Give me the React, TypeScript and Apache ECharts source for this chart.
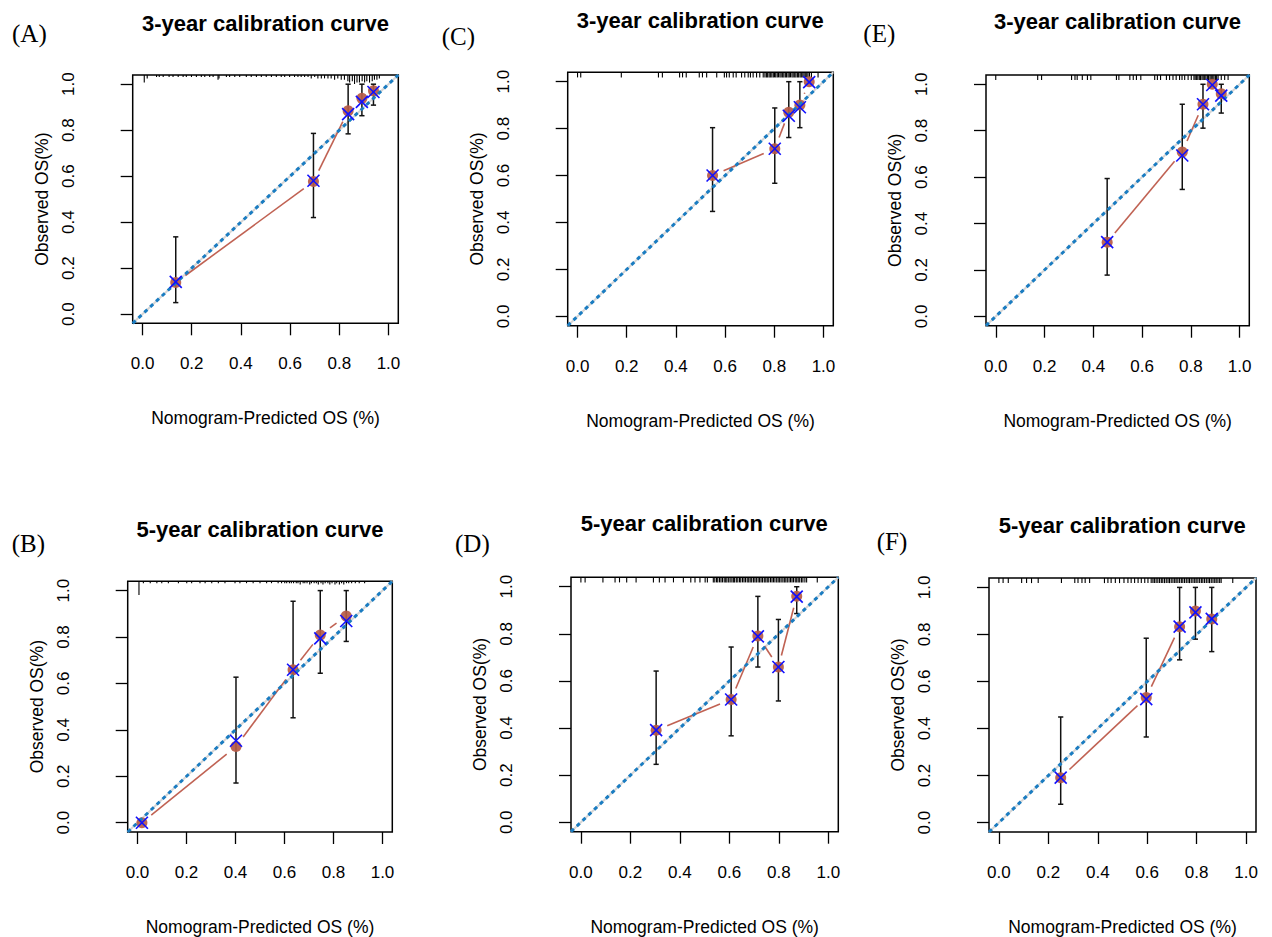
import React, { useEffect, useRef } from "react";
import * as echarts from "echarts";

// ---------- shared axis data ----------
const TICKS = [0, 0.2, 0.4, 0.6, 0.8, 1.0];
const AXIS_MIN = -0.04;
const AXIS_MAX = 1.04;
const X_NAME = "Nomogram-Predicted OS (%)";
const Y_NAME = "Observed OS(%)";
const TITLES = [
  "3-year calibration curve",
  "5-year calibration curve",
  "3-year calibration curve",
  "5-year calibration curve",
  "3-year calibration curve",
  "5-year calibration curve",
];
const PANEL_LABELS = ["(A)", "(B)", "(C)", "(D)", "(E)", "(F)"];

// ---------- Panel A ----------
const predA = [0.135, 0.695, 0.836, 0.892, 0.939];
const obsA = [0.137, 0.577, 0.884, 0.939, 0.971];
const corrA = [0.14, 0.58, 0.87, 0.923, 0.966];
const loA = [0.05, 0.42, 0.784, 0.863, 0.909];
const hiA = [0.336, 0.786, 1.0, 1.0, 1.0];
const rugA = [
  [0.007, 5], [0.019, 2], [0.057, 1], [0.068, 1], [0.084, 1], [0.108, 1], [0.124, 1], [0.145, 1],
  [0.165, 1], [0.178, 1], [0.199, 1], [0.219, 1], [0.239, 1], [0.253, 1], [0.273, 1], [0.287, 1],
  [0.307, 3], [0.311, 2], [0.341, 1], [0.354, 1], [0.375, 1], [0.395, 1], [0.422, 1], [0.442, 1],
  [0.463, 1], [0.483, 1], [0.503, 1], [0.524, 1], [0.544, 1], [0.564, 1], [0.578, 1], [0.598, 1],
  [0.618, 1], [0.632, 1], [0.645, 1], [0.659, 1], [0.673, 1], [0.686, 2], [0.7, 1], [0.713, 2],
  [0.727, 2], [0.74, 2], [0.754, 2], [0.767, 2], [0.781, 3], [0.794, 2], [0.808, 3], [0.821, 3],
  [0.835, 4], [0.842, 5], [0.853, 4], [0.862, 6], [0.872, 5], [0.882, 5], [0.893, 4], [0.903, 5],
  [0.912, 4], [0.923, 5], [0.934, 4], [0.943, 3], [0.953, 3], [0.963, 2],
];

// ---------- Panel B ----------
const predB = [0.018, 0.402, 0.635, 0.746, 0.852];
const obsB = [0.0, 0.328, 0.659, 0.809, 0.89];
const corrB = [0.0, 0.353, 0.659, 0.794, 0.869];
const loB = [0.0, 0.171, 0.452, 0.644, 0.781];
const hiB = [0.0, 0.627, 0.954, 1.0, 1.0];
const rugB = [
  [0.006, 10], [0.024, 1], [0.052, 1], [0.079, 1], [0.099, 1], [0.126, 1], [0.167, 1], [0.201, 1],
  [0.221, 1], [0.255, 1], [0.276, 1], [0.303, 1], [0.33, 1], [0.357, 1], [0.398, 1], [0.418, 1],
  [0.445, 1], [0.472, 1], [0.5, 1], [0.527, 1], [0.547, 1], [0.574, 1], [0.588, 1], [0.601, 1],
  [0.609, 1], [0.62, 1], [0.628, 1], [0.637, 1], [0.648, 1], [0.655, 1], [0.664, 2], [0.676, 1],
  [0.683, 1], [0.692, 1], [0.703, 2], [0.71, 1], [0.721, 1], [0.73, 1], [0.738, 2], [0.749, 1],
  [0.757, 2], [0.766, 1], [0.777, 1], [0.785, 2], [0.794, 1], [0.806, 2], [0.813, 1], [0.824, 2],
  [0.833, 1], [0.842, 2], [0.853, 1], [0.862, 1], [0.874, 1], [0.889, 1], [0.905, 1], [0.927, 1],
];

// ---------- Panel C ----------
const predC = [0.549, 0.802, 0.859, 0.904, 0.942];
const obsC = [0.6, 0.714, 0.87, 0.901, 1.0];
const corrC = [0.6, 0.714, 0.855, 0.891, 0.998];
const loC = [0.447, 0.567, 0.762, 0.804, 1.0];
const hiC = [0.804, 0.888, 1.0, 1.0, 1.0];
const rugC = [
  0.0, 0.013, 0.178, 0.329, 0.345, 0.415, 0.427, 0.442, 0.495, 0.508, 0.525, 0.566, 0.597, 0.606,
  0.617, 0.633, 0.645, 0.667, 0.68, 0.694, 0.703, 0.714, 0.728, 0.741, 0.755, 0.762, 0.768, 0.773,
  0.779, 0.784, 0.79, 0.796, 0.801, 0.806, 0.812, 0.817, 0.823, 0.828, 0.834, 0.839, 0.845, 0.85,
  0.856, 0.861, 0.866, 0.872, 0.877, 0.883, 0.888, 0.894, 0.899, 0.905, 0.91, 0.916, 0.921, 0.926,
  0.932, 0.937, 0.943, 0.951, 0.978,
];

// ---------- Panel D ----------
const predD = [0.304, 0.607, 0.715, 0.798, 0.872];
const obsD = [0.391, 0.521, 0.791, 0.659, 0.96];
const corrD = [0.391, 0.521, 0.789, 0.659, 0.958];
const loD = [0.246, 0.367, 0.659, 0.515, 0.886];
const hiD = [0.642, 0.744, 0.959, 0.861, 1.0];
const rugD = [
  0.0, 0.017, 0.089, 0.138, 0.156, 0.185, 0.223, 0.293, 0.317, 0.34, 0.374, 0.414, 0.444, 0.461,
  0.481, 0.502, 0.511, 0.535, 0.541, 0.548, 0.553, 0.56, 0.566, 0.572, 0.579, 0.585, 0.59, 0.597,
  0.603, 0.61, 0.616, 0.621, 0.628, 0.634, 0.641, 0.646, 0.653, 0.659, 0.665, 0.672, 0.678, 0.684,
  0.69, 0.697, 0.703, 0.709, 0.716, 0.722, 0.728, 0.734, 0.741, 0.747, 0.753, 0.759, 0.766, 0.772,
  0.778, 0.784, 0.791, 0.797, 0.803, 0.809, 0.816, 0.822, 0.828, 0.834, 0.841, 0.847, 0.853, 0.859,
  0.866, 0.872, 0.878, 0.884, 0.891, 0.897, 0.905, 0.912, 0.955,
];

// ---------- Panel E ----------
const predE = [0.457, 0.765, 0.85, 0.888, 0.925];
const obsE = [0.32, 0.708, 0.914, 1.0, 0.959];
const corrE = [0.32, 0.693, 0.914, 0.997, 0.951];
const loE = [0.178, 0.547, 0.811, 1.0, 0.876];
const hiE = [0.594, 0.914, 1.0, 1.0, 1.0];
const rugE = [
  0.0, 0.172, 0.188, 0.311, 0.325, 0.334, 0.355, 0.376, 0.39, 0.495, 0.505, 0.55, 0.564, 0.577,
  0.595, 0.652, 0.663, 0.676, 0.7, 0.713, 0.727, 0.74, 0.754, 0.764, 0.775, 0.789, 0.802, 0.813,
  0.818, 0.824, 0.829, 0.835, 0.84, 0.846, 0.851, 0.857, 0.862, 0.868, 0.873, 0.879, 0.884, 0.89,
  0.895, 0.901, 0.906, 0.912, 0.925, 0.939, 0.953,
];

// ---------- Panel F ----------
const predF = [0.25, 0.596, 0.731, 0.795, 0.861];
const obsF = [0.191, 0.532, 0.833, 0.9, 0.866];
const corrF = [0.191, 0.525, 0.833, 0.894, 0.866];
const loF = [0.078, 0.364, 0.692, 0.78, 0.727];
const hiF = [0.449, 0.784, 1.0, 1.0, 1.0];
const rugF = [
  0.0, 0.017, 0.038, 0.092, 0.112, 0.132, 0.159, 0.253, 0.307, 0.32, 0.336, 0.349, 0.367, 0.427,
  0.441, 0.454, 0.471, 0.488, 0.506, 0.522, 0.535, 0.549, 0.563, 0.576, 0.59, 0.603, 0.616, 0.623,
  0.629, 0.636, 0.643, 0.65, 0.657, 0.663, 0.67, 0.677, 0.684, 0.69, 0.697, 0.704, 0.711, 0.717,
  0.724, 0.731, 0.738, 0.744, 0.751, 0.758, 0.765, 0.771, 0.778, 0.785, 0.792, 0.798, 0.805, 0.812,
  0.819, 0.825, 0.832, 0.839, 0.846, 0.852, 0.859, 0.866, 0.873, 0.879, 0.886, 0.893, 0.899, 0.946,
];

const PANELS = [
  { pred: predA, obs: obsA, corr: corrA, lo: loA, hi: hiA, rug: rugA },
  { pred: predB, obs: obsB, corr: corrB, lo: loB, hi: hiB, rug: rugB },
  { pred: predC, obs: obsC, corr: corrC, lo: loC, hi: hiC, rug: rugC },
  { pred: predD, obs: obsD, corr: corrD, lo: loD, hi: hiD, rug: rugD },
  { pred: predE, obs: obsE, corr: corrE, lo: loE, hi: hiE, rug: rugE },
  { pred: predF, obs: obsF, corr: corrF, lo: loF, hi: hiF, rug: rugF },
];

// ---------- layout (positions / styles) ----------
const GRIDS = [
  { left: 132.7, top: 75, width: 265.6, height: 248.3 },
  { left: 127.7, top: 581.3, width: 264.6, height: 253 },
  { left: 567.7, top: 72.3, width: 265.6, height: 253.4 },
  { left: 571, top: 577.3, width: 267.3, height: 254.4 },
  { left: 986, top: 75, width: 263.3, height: 250.7 },
  { left: 989, top: 578, width: 267, height: 254.3 },
];
const TITLE_POS = [
  [265.5, 23], [260, 529.3], [700.3, 20.5], [704.2, 523.3], [1117.5, 21.7], [1122.2, 525],
];
const LABEL_POS = [
  [12, 33], [11.7, 543.3], [441.7, 36.7], [455, 543.3], [863.3, 33.3], [876.7, 541.7],
];
const RUG_UNIT = [1.4, 1.3, 4.5, 4.5, 4.5, 4.5];

const FONT = '"Liberation Sans", Arial, Helvetica, sans-serif';
const RED = "#c06253";
const DOT = "#b65a47";
const BLUE_DIAG = "#1a7cc1";
const BLUE_X = "#1010ff";

function buildOption() {
  const grid: any[] = [];
  const xAxis: any[] = [];
  const yAxis: any[] = [];
  const series: any[] = [];
  const graphic: any[] = [];

  PANELS.forEach((p, i) => {
    const g = GRIDS[i];
    grid.push({
      left: g.left,
      top: g.top,
      width: g.width,
      height: g.height,
      show: true,
      borderColor: "#000",
      borderWidth: 1.5,
      backgroundColor: "transparent",
      containLabel: false,
    });
    xAxis.push({
      type: "value",
      gridIndex: i,
      min: AXIS_MIN,
      max: AXIS_MAX,
      axisLine: { show: false, onZero: false },
      axisTick: {
        show: true,
        inside: false,
        length: 12,
        customValues: TICKS,
        lineStyle: { color: "#000", width: 1.3 },
      },
      axisLabel: {
        customValues: TICKS,
        formatter: (v: number) => v.toFixed(1),
        margin: 32,
        fontSize: 17,
        color: "#000",
        fontFamily: FONT,
      },
      splitLine: { show: false },
      name: X_NAME,
      nameLocation: "middle",
      nameGap: 86,
      nameTextStyle: { fontSize: 17.5, color: "#000", fontFamily: FONT },
    });
    yAxis.push({
      type: "value",
      gridIndex: i,
      min: AXIS_MIN,
      max: AXIS_MAX,
      axisLine: { show: false, onZero: false },
      axisTick: {
        show: true,
        inside: false,
        length: 12,
        customValues: TICKS,
        lineStyle: { color: "#000", width: 1.3 },
      },
      axisLabel: {
        customValues: TICKS,
        formatter: (v: number) => v.toFixed(1),
        rotate: 90,
        margin: 56,
        fontSize: 17,
        color: "#000",
        fontFamily: FONT,
      },
      splitLine: { show: false },
      name: Y_NAME,
      nameLocation: "middle",
      nameGap: 82,
      nameTextStyle: { fontSize: 17.5, color: "#000", fontFamily: FONT },
    });

    // ideal line (grey) under the dotted blue reference
    series.push({
      type: "line",
      xAxisIndex: i,
      yAxisIndex: i,
      data: [[AXIS_MIN, AXIS_MIN], [AXIS_MAX, AXIS_MAX]],
      symbol: "none",
      silent: true,
      lineStyle: { color: "#d6d6d6", width: 2 },
      z: 1,
    });

    // rug of predicted risks along the top edge
    const unit = RUG_UNIT[i];
    const rugData = p.rug.map((r: any) => (Array.isArray(r) ? [r[0], r[1]] : [r, 1]));
    series.push({
      type: "custom",
      xAxisIndex: i,
      yAxisIndex: i,
      data: rugData,
      encode: { x: 0 },
      silent: true,
      z: 2,
      renderItem: (params: any, api: any) => {
        const top = api.coord([api.value(0), AXIS_MAX]);
        const len = api.value(1) * unit + 0.6;
        return {
          type: "line",
          shape: { x1: top[0], y1: top[1], x2: top[0], y2: top[1] + len },
          style: { stroke: "#000", lineWidth: 1.1 },
        };
      },
    });

    // red connecting line with gaps around points (type = "b")
    const segs: number[][] = [];
    for (let k = 0; k < p.pred.length - 1; k++) {
      segs.push([p.pred[k], p.obs[k], p.pred[k + 1], p.obs[k + 1]]);
    }
    series.push({
      type: "custom",
      xAxisIndex: i,
      yAxisIndex: i,
      data: segs,
      encode: { x: [0, 2], y: [1, 3] },
      silent: true,
      z: 3,
      renderItem: (params: any, api: any) => {
        const a = api.coord([api.value(0), api.value(1)]);
        const b = api.coord([api.value(2), api.value(3)]);
        const dx = b[0] - a[0];
        const dy = b[1] - a[1];
        const L = Math.hypot(dx, dy);
        const gap = 12;
        if (L <= 2 * gap) return { type: "group", children: [] };
        const ux = dx / L;
        const uy = dy / L;
        return {
          type: "line",
          shape: { x1: a[0] + ux * gap, y1: a[1] + uy * gap, x2: b[0] - ux * gap, y2: b[1] - uy * gap },
          style: { stroke: RED, lineWidth: 1.6 },
        };
      },
    });

    // error bars
    series.push({
      type: "custom",
      xAxisIndex: i,
      yAxisIndex: i,
      data: p.pred.map((x: number, k: number) => [x, p.lo[k], p.hi[k]]),
      encode: { x: 0, y: [1, 2] },
      silent: true,
      z: 4,
      renderItem: (params: any, api: any) => {
        const lo = api.value(1);
        const hi = api.value(2);
        if (hi - lo < 0.005) return { type: "group", children: [] };
        const a = api.coord([api.value(0), lo]);
        const b = api.coord([api.value(0), hi]);
        const w = 2.6;
        const st = { stroke: "#111", lineWidth: 1.5 };
        return {
          type: "group",
          children: [
            { type: "line", shape: { x1: a[0], y1: a[1], x2: b[0], y2: b[1] }, style: st },
            { type: "line", shape: { x1: a[0] - w, y1: a[1], x2: a[0] + w, y2: a[1] }, style: st },
            { type: "line", shape: { x1: b[0] - w, y1: b[1], x2: b[0] + w, y2: b[1] }, style: st },
          ],
        };
      },
    });

    // observed (red dots)
    series.push({
      type: "scatter",
      xAxisIndex: i,
      yAxisIndex: i,
      data: p.pred.map((x: number, k: number) => [x, p.obs[k]]),
      symbol: "circle",
      symbolSize: 11,
      itemStyle: { color: DOT, opacity: 0.92 },
      silent: true,
      z: 5,
    });

    // dotted blue reference line
    series.push({
      type: "line",
      xAxisIndex: i,
      yAxisIndex: i,
      data: [[AXIS_MIN, AXIS_MIN], [AXIS_MAX, AXIS_MAX]],
      symbol: "none",
      silent: true,
      lineStyle: { color: BLUE_DIAG, width: 3, type: [4, 4], cap: "butt" },
      z: 6,
    });

    // bias-corrected (blue X)
    series.push({
      type: "custom",
      xAxisIndex: i,
      yAxisIndex: i,
      data: p.pred.map((x: number, k: number) => [x, p.corr[k]]),
      encode: { x: 0, y: 1 },
      silent: true,
      z: 7,
      renderItem: (params: any, api: any) => {
        const c = api.coord([api.value(0), api.value(1)]);
        const r = 6;
        const st = { stroke: BLUE_X, lineWidth: 1.6 };
        return {
          type: "group",
          children: [
            { type: "line", shape: { x1: c[0] - r, y1: c[1] - r, x2: c[0] + r, y2: c[1] + r }, style: st },
            { type: "line", shape: { x1: c[0] - r, y1: c[1] + r, x2: c[0] + r, y2: c[1] - r }, style: st },
          ],
        };
      },
    });

    graphic.push({
      type: "text",
      x: TITLE_POS[i][0],
      y: TITLE_POS[i][1],
      silent: true,
      style: {
        text: TITLES[i],
        font: `bold 22px ${FONT}`,
        fill: "#000",
        align: "center",
        verticalAlign: "middle",
      },
    });
    graphic.push({
      type: "text",
      x: LABEL_POS[i][0],
      y: LABEL_POS[i][1],
      silent: true,
      style: {
        text: PANEL_LABELS[i],
        font: `25px "Liberation Serif", "Times New Roman", serif`,
        fill: "#000",
        align: "left",
        verticalAlign: "middle",
      },
    });
  });

  return {
    animation: false,
    backgroundColor: "#fff",
    textStyle: { fontFamily: FONT },
    grid,
    xAxis,
    yAxis,
    series,
    graphic,
  };
}

export default function App() {
  const ref = useRef<HTMLDivElement>(null);
  useEffect(() => {
    if (!ref.current) return;
    const chart = echarts.init(ref.current, undefined, { renderer: "svg" });
    chart.setOption(buildOption() as any);
    return () => chart.dispose();
  }, []);
  return (
    <div
      ref={ref}
      style={{ position: "fixed", left: 0, top: 0, width: 1272, height: 937, background: "#fff" }}
    />
  );
}
